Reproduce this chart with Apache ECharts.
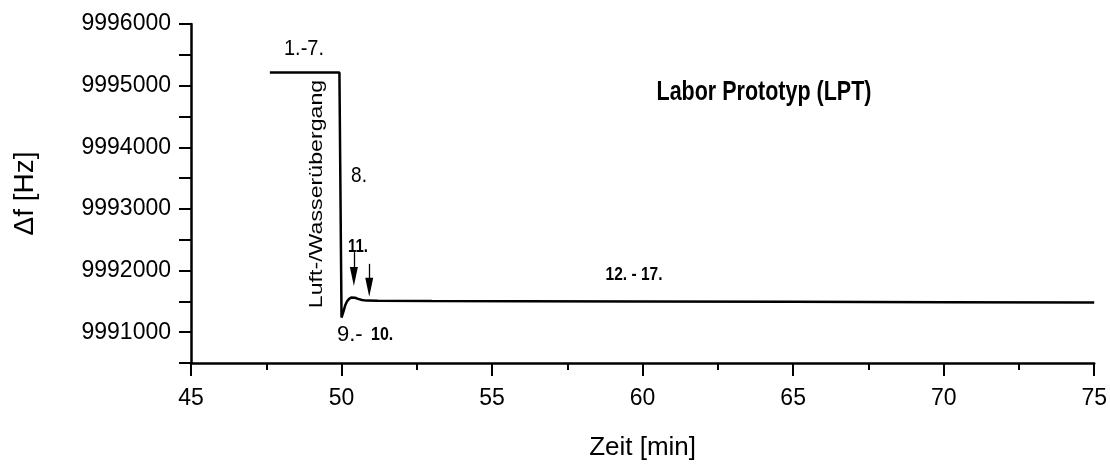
<!DOCTYPE html>
<html>
<head>
<meta charset="utf-8">
<script src="https://cdn.jsdelivr.net/npm/echarts@6/dist/echarts.min.js"></script>
<style>html,body{margin:0;padding:0;background:#fff}#c{width:1110px;height:466px}</style>
</head>
<body>
<div id="c"></div>
<script>
// time [min]
const timeMin = [47.62, 49.93, 50.00, 50.07, 50.12, 50.18, 50.25, 50.32, 50.38, 50.45, 50.55, 50.68, 50.83, 51.2, 53, 56, 60, 65, 70, 75];
// frequency [Hz]
const freqHz = [9995214, 9995214, 9991238, 9991345, 9991432, 9991497, 9991540, 9991561, 9991566, 9991558, 9991540, 9991523, 9991512, 9991508, 9991505, 9991502, 9991498, 9991492, 9991487, 9991482];
// arrows (x, y start, y at head centre)
const arrowX = [50.41, 50.92];
const arrowTop = [9992298, 9992109];
const arrowHead = [9991902, 9991729];
const yTicks = [9991000, 9992000, 9993000, 9994000, 9995000, 9996000];
const xTicks = [45, 50, 55, 60, 65, 70, 75];

const FONT = '"Liberation Sans", Arial, sans-serif';
const chart = echarts.init(document.getElementById('c'));

const arrowLines = arrowX.map((x, i) => [
  {coord: [x, arrowTop[i]]},
  {coord: [x, arrowHead[i]]}
]);

function txt(text, x, y, size, opts) {
  opts = opts || {};
  return {
    type: 'text', x: x, y: y,
    rotation: opts.rot || 0,
    scaleX: opts.sx || 1, scaleY: opts.sy || 1,
    silent: true,
    style: {
      text: text,
      fontFamily: FONT,
      fontSize: size,
      fontWeight: opts.bold ? 'bold' : 'normal',
      fill: '#000',
      textAlign: opts.align || 'center',
      textVerticalAlign: 'middle'
    }
  };
}

chart.setOption({
  animation: false,
  backgroundColor: '#fff',
  grid: {left: 191, right: 15, top: 24, bottom: 103, containLabel: false},
  xAxis: {
    type: 'value', min: 45, max: 75, interval: 5,
    name: 'Zeit [min]', nameLocation: 'middle', nameGap: 72,
    nameTextStyle: {fontFamily: FONT, fontSize: 26, color: '#000'},
    axisLine: {show: true, onZero: false, lineStyle: {color: '#000', width: 2.5}},
    axisTick: {show: true, inside: false, length: 13, lineStyle: {color: '#000', width: 2}},
    minorTick: {show: true, splitNumber: 2, length: 7, lineStyle: {color: '#000', width: 2}},
    splitLine: {show: false},
    axisLabel: {
      fontFamily: FONT, fontSize: 23, color: '#000', margin: 24,
      showMinLabel: true, showMaxLabel: true,
      formatter: v => xTicks.indexOf(v) >= 0 ? String(v) : ''
    }
  },
  yAxis: {
    type: 'value', min: 9990500, max: 9996000, interval: 500,
    name: 'Δf [Hz]', nameLocation: 'middle', nameGap: 152, nameRotate: 90,
    nameTextStyle: {fontFamily: FONT, fontSize: 28, color: '#000'},
    axisLine: {show: true, onZero: false, lineStyle: {color: '#000', width: 2.5}},
    axisTick: {show: true, inside: false, length: 12, lineStyle: {color: '#000', width: 2}},
    splitLine: {show: false},
    axisLabel: {
      fontFamily: FONT, fontSize: 23, color: '#000', margin: 20,
      showMinLabel: true,
      formatter: v => yTicks.indexOf(v) >= 0 ? String(v) : ''
    }
  },
  series: [{
    type: 'line',
    data: timeMin.map((t, i) => [t, freqHz[i]]),
    showSymbol: false,
    lineStyle: {color: '#000', width: 2.5},
    silent: true,
    markLine: {
      silent: true,
      symbol: ['none', 'triangle'],
      symbolSize: [8, 19],
      label: {show: false},
      lineStyle: {color: '#000', width: 1.3, type: 'solid'},
      itemStyle: {color: '#000'},
      data: arrowLines
    }
  }],
  graphic: [
    txt('1.-7.', 304, 49, 20, {sy: 1.1}),
    txt('Luft-/Wasserübergang', 317, 194, 19, {rot: Math.PI / 2, sx: 1.22}),
    txt('8.', 359, 176, 19, {sy: 1.2}),
    txt('11.', 358, 246.5, 15, {bold: true, sy: 1.25}),
    txt('9.-', 337, 335, 22, {align: 'left'}),
    txt('10.', 371, 335, 16, {align: 'left', bold: true, sy: 1.15}),
    txt('12. - 17.', 634, 275, 15.5, {bold: true, sy: 1.2}),
    txt('Labor Prototyp (LPT)', 764, 92, 21.5, {bold: true, sy: 1.3})
  ]
});
</script>
</body>
</html>
